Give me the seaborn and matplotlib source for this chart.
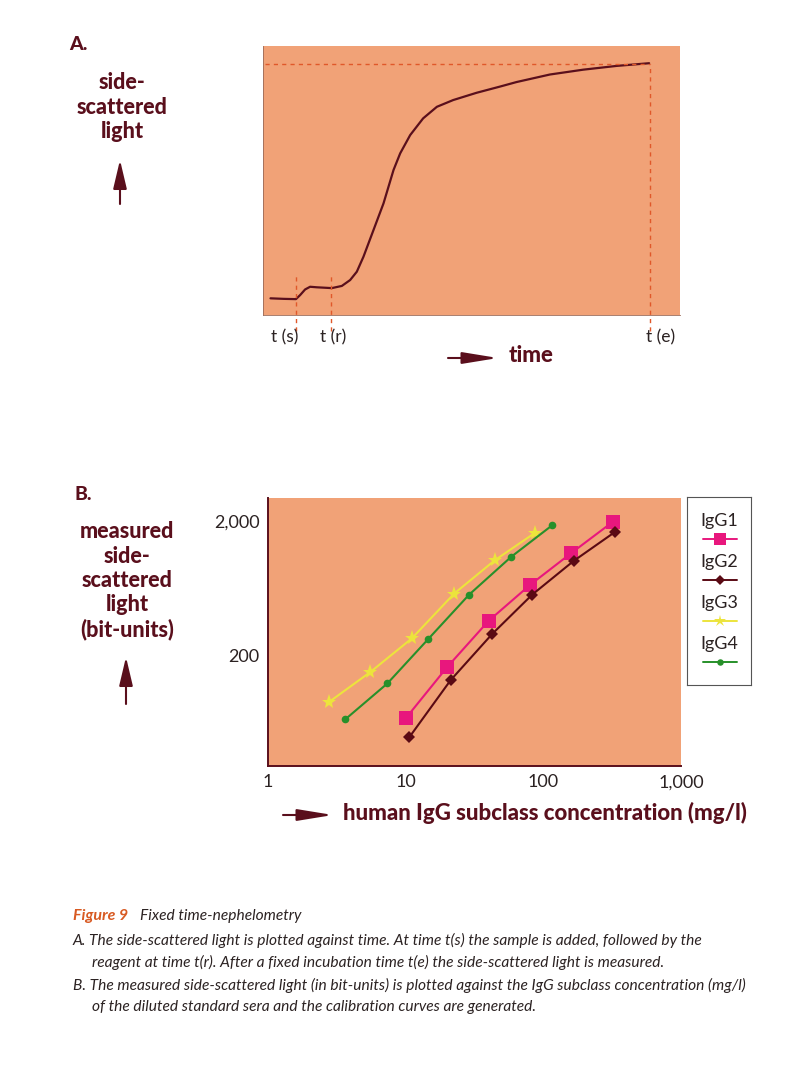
import numpy as np
import pandas as pd
import matplotlib
matplotlib.use("Agg")
import matplotlib.pyplot as plt
from matplotlib.lines import Line2D
from matplotlib.patches import FancyArrowPatch
from matplotlib.ticker import FixedLocator, LogLocator, NullFormatter
import seaborn as sns

# ---- data ----
# panel A: kinetic curve (arbitrary units)
time_pts = [1.8, 5.0, 7.9, 8.9, 10.1, 11.3, 12.9, 16.5, 18.9, 20.9, 22.5, 24.1,
            26.5, 28.9, 31.3, 32.9, 35.3, 38.4, 41.7, 45.6, 51.2, 56.8, 60.8,
            68.8, 76.8, 84.8, 92.6]
light_pts = [6.2, 6.0, 5.9, 7.4, 9.5, 10.5, 10.3, 10.0, 10.8, 13.0, 16.1, 21.7,
             31.6, 41.5, 53.9, 60.1, 66.9, 73.1, 77.4, 79.9, 82.6, 84.9, 86.6,
             89.4, 91.2, 92.6, 93.6]
t_s, t_r, t_e = 7.8, 16.4, 92.8
t_labels = ["t (s)", "t (r)", "t (e)"]

# panel B: calibration curves
subclasses = ["IgG1", "IgG2", "IgG3", "IgG4"]
conc_igg1 = [10, 20, 40, 80, 160, 320]
sig_igg1 = [68, 164, 363, 673, 1167, 1994]
conc_igg2 = [10.6, 21.2, 42.5, 83, 166, 334]
sig_igg2 = [49, 131, 290, 570, 1017, 1683]
conc_igg3 = [2.77, 5.55, 11.1, 22.5, 44.4, 87.5]
sig_igg3 = [90, 151, 269, 580, 1029, 1655]
conc_igg4 = [3.65, 7.37, 14.6, 28.9, 58.3, 116]
sig_igg4 = [67, 124, 266, 570, 1090, 1878]

x_ticks = [1, 10, 100, 1000]
x_ticklabels = ["1", "10", "100", "1,000"]
y_ticks = [200, 2000]
y_ticklabels = ["200", "2,000"]

caption_title = "Figure 9"
caption_sub = "Fixed time-nephelometry"
caption_lines = [
    "A. The side-scattered light is plotted against time. At time t(s) the sample is added, followed by the",
    "reagent at time t(r). After a fixed incubation time t(e) the side-scattered light is measured.",
    "B. The measured side-scattered light (in bit-units) is plotted against the IgG subclass concentration (mg/l)",
    "of the diluted standard sera and the calibration curves are generated.",
]

# ---- style ----
sns.set_style("white")
plt.rcParams["font.family"] = ["Lato", "DejaVu Sans"]

W, H = 785, 1078
bg = "#f1a277"
maroon = "#5a0f1c"
dash_col = "#e0582a"
text_col = "#2b2222"
colors = {"IgG1": "#e8177d", "IgG2": "#5a0a14", "IgG3": "#ece43c", "IgG4": "#27902a"}
markers = {"IgG1": "s", "IgG2": "D", "IgG3": "*", "IgG4": "o"}
msizes = {"IgG1": 9.5, "IgG2": 6.5, "IgG3": 11, "IgG4": 5.5}


def fx(x):
    return x / W


def fy(y):
    return 1 - y / H


def arrow(x0, y0, x1, y1, hl, hw):
    fig.patches.append(FancyArrowPatch((fx(x0), fy(y0)), (fx(x1), fy(y1)),
                                       transform=fig.transFigure,
                                       arrowstyle=f"-|>,head_length={hl},head_width={hw}",
                                       mutation_scale=16, color=maroon, lw=1.5,
                                       shrinkA=0, shrinkB=0))


fig = plt.figure(figsize=(W / 100, H / 100), dpi=100)

# ================= panel A =================
axA = fig.add_axes([fx(263), fy(315), (680 - 263) / W, (315 - 46) / H])
axA.set_facecolor(bg)
sns.lineplot(x=time_pts, y=light_pts, ax=axA, color=maroon, lw=1.6, sort=False)
axA.set_xlim(0, 100)
axA.set_ylim(0, 100)
axA.set_xticks([])
axA.set_yticks([])
for s in ["top", "right"]:
    axA.spines[s].set_visible(False)
for s in ["left", "bottom"]:
    axA.spines[s].set_color("#9a6a58")
    axA.spines[s].set_linewidth(0.6)

top_val = 93.3
dkw = dict(color=dash_col, lw=1.0, ls=(0, (3, 3)), clip_on=False)
axA.plot([0.5, t_e], [top_val, top_val], **dkw)
axA.plot([t_e, t_e], [-6, top_val], **dkw)
axA.plot([t_s, t_s], [-6, 14.5], **dkw)
axA.plot([t_r, t_r], [-6, 14.5], **dkw)

for xx, lab in zip([285, 333, 661], t_labels):
    fig.text(fx(xx), fy(337), lab, ha="center", va="center", fontsize=12.5, color=text_col)

fig.text(fx(69), fy(45), "A.", fontsize=14, fontweight=900, color=maroon, va="center")
fig.text(fx(122), fy(107), "side-\nscattered\nlight", fontsize=15.5, fontweight=900,
         color=maroon, ha="center", va="center", linespacing=1.2)
arrow(120, 204, 120, 160, 1.1, 0.26)
arrow(448, 358, 498, 358, 1.35, 0.22)
fig.text(fx(509), fy(356), "time", fontsize=16, fontweight=900, color=maroon, va="center")

# ================= panel B =================
axB = fig.add_axes([fx(268), fy(766), (681 - 268) / W, (766 - 498) / H])
axB.set_facecolor(bg)

series = {
    "IgG1": (conc_igg1, sig_igg1),
    "IgG2": (conc_igg2, sig_igg2),
    "IgG3": (conc_igg3, sig_igg3),
    "IgG4": (conc_igg4, sig_igg4),
}
frames = []
for name in subclasses:
    c, s = series[name]
    frames.append(pd.DataFrame({"conc": c, "signal": s, "subclass": name}))
df = pd.concat(frames, ignore_index=True)

for name in ["IgG3", "IgG4", "IgG1", "IgG2"]:
    sub = df[df["subclass"] == name]
    sns.lineplot(data=sub, x="conc", y="signal", ax=axB, color=colors[name],
                 marker=markers[name], markersize=msizes[name], markeredgewidth=0,
                 lw=1.5, sort=False)

axB.set_xscale("log")
axB.set_yscale("log")
axB.set_xlim(1, 1000)
axB.set_ylim(30, 3000)
axB.xaxis.set_major_locator(FixedLocator(x_ticks))
axB.set_xticklabels(x_ticklabels)
axB.yaxis.set_major_locator(FixedLocator(y_ticks))
axB.set_yticklabels(y_ticklabels)
axB.xaxis.set_minor_locator(LogLocator(base=10, subs=np.arange(1, 10)))
axB.yaxis.set_minor_locator(LogLocator(base=10, subs=np.arange(1, 10)))
axB.xaxis.set_minor_formatter(NullFormatter())
axB.yaxis.set_minor_formatter(NullFormatter())
axB.tick_params(which="both", direction="in", color=maroon, labelsize=13,
                labelcolor=text_col, width=0.8)
axB.tick_params(which="major", length=5, pad=6)
axB.tick_params(which="minor", length=3)
axB.set_xlabel("")
axB.set_ylabel("")
for s in ["top", "right"]:
    axB.spines[s].set_visible(False)
for s in ["left", "bottom"]:
    axB.spines[s].set_color(maroon)
    axB.spines[s].set_linewidth(1.4)

fig.text(fx(74), fy(494), "B.", fontsize=14, fontweight=900, color=maroon, va="center")
fig.text(fx(127), fy(581), "measured\nside-\nscattered\nlight\n(bit-units)", fontsize=15.5,
         fontweight=900, color=maroon, ha="center", va="center", linespacing=1.2)
arrow(126, 704, 126, 657, 1.1, 0.26)
arrow(283, 815, 333, 815, 1.35, 0.22)
fig.text(fx(343), fy(813), "human IgG subclass concentration (mg/l)", fontsize=16,
         fontweight=900, color=maroon, va="center")

# legend box (labels above the sample lines)
axL = fig.add_axes([fx(687), fy(685), (751 - 687) / W, (685 - 497) / H])
axL.set_xlim(0, 1)
axL.set_ylim(0, 1)
axL.set_xticks([])
axL.set_yticks([])
for s in axL.spines.values():
    s.set_color("#555555")
    s.set_linewidth(0.8)
lab_y = [521, 562, 603, 644]
line_y = [539, 580, 621, 662]
for name, ly, my in zip(subclasses, lab_y, line_y):
    yl = (685 - ly) / (685 - 497)
    ym = (685 - my) / (685 - 497)
    axL.text(0.5, yl, name, ha="center", va="center", fontsize=13, color=text_col)
    axL.add_line(Line2D([0.25, 0.78], [ym, ym], color=colors[name], lw=1.4))
    axL.plot([0.515], [ym], ls="none", color=colors[name], marker=markers[name],
             markersize=msizes[name] * 0.85, markeredgewidth=0)

# ================= caption =================
fig.text(fx(73), fy(916), caption_title, fontsize=11.5, fontweight="bold", style="italic",
         color="#d85a22", va="center")
fig.text(fx(140), fy(916), caption_sub, fontsize=11.2, style="italic", color=text_col, va="center")
cap_x = [73, 92, 73, 92]
cap_y = [940, 962, 985, 1007]
for xx, yy, line in zip(cap_x, cap_y, caption_lines):
    fig.text(fx(xx), fy(yy), line, fontsize=11.2, style="italic", color=text_col, va="center")

fig.savefig("out.png", dpi=100, facecolor="white")
